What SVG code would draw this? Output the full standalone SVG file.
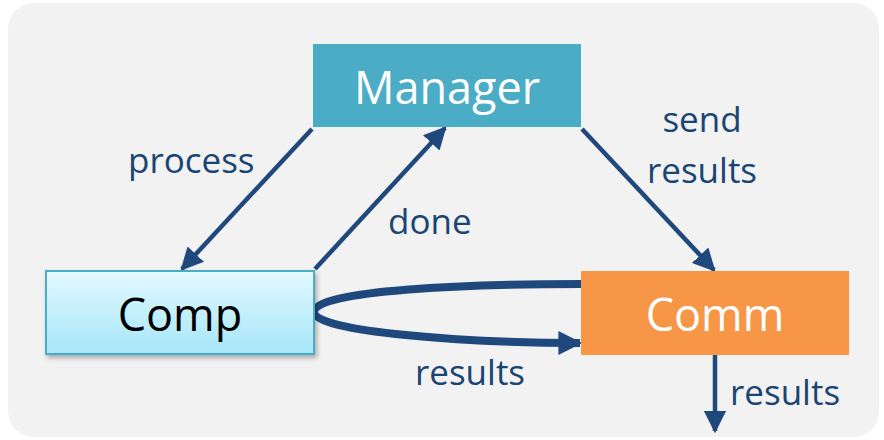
<svg xmlns="http://www.w3.org/2000/svg" width="884" height="440" viewBox="0 0 884 440">
  <defs>
    <linearGradient id="compFill" x1="0" y1="0" x2="0" y2="1">
      <stop offset="0" stop-color="#E3F9FF"/>
      <stop offset="1" stop-color="#A6E6F9"/>
    </linearGradient>
    <filter id="shadow" x="-10%" y="-10%" width="130%" height="140%">
      <feDropShadow dx="2" dy="3" stdDeviation="2.5" flood-color="#000" flood-opacity="0.3"/>
    </filter>
    <marker id="head" viewBox="0 0 10 10" refX="9" refY="5" markerWidth="5" markerHeight="5" orient="auto" markerUnits="strokeWidth">
      <path d="M0,0 L10,5 L0,10 Z" fill="#1F497D"/>
    </marker>
    <marker id="headLoop" viewBox="0 0 10 10" refX="9" refY="5" markerWidth="3.4" markerHeight="3" orient="auto" markerUnits="strokeWidth">
      <path d="M0,0 L10,5 L0,10 Z" fill="#1F497D"/>
    </marker>
  </defs>
  <style>
    .lbl { font-family: "Open Sans", "Noto Sans", sans-serif; font-size: 35px; fill: #1A4573; }
    .node { font-family: "Open Sans", "Noto Sans", sans-serif; font-size: 45px; text-anchor: middle; }
    .arrow { stroke: #1F497D; stroke-width: 4.5; fill: none; marker-end: url(#head); }
  </style>

  <!-- panel -->
  <rect x="8" y="3" width="871" height="434" rx="26" fill="#F2F2F2"/>

  <!-- connectors -->
  <g id="connectors">
    <line class="arrow" x1="312" y1="129" x2="182" y2="269"/>
    <line class="arrow" x1="315" y1="269" x2="445" y2="128"/>
    <line class="arrow" x1="582" y1="129" x2="714" y2="270"/>
    <line class="arrow" x1="715" y1="355" x2="715" y2="431"/>
    <path d="M581,284 C470,284 314,290 314,312 C314,332 470,343 580,343" stroke="#1F497D" stroke-width="8" fill="none" marker-end="url(#headLoop)"/>
  </g>

  <!-- nodes -->
  <g id="manager">
    <rect x="313" y="44" width="268" height="83" fill="#4BACC6"/>
    <text class="node" x="447" y="104" fill="#FFFFFF" font-size="46">Manager</text>
  </g>
  <g id="comp">
    <rect x="46" y="271" width="268" height="83" fill="url(#compFill)" stroke="#4BACC6" stroke-width="2" filter="url(#shadow)"/>
    <text class="node" x="180" y="331" fill="#000000">Comp</text>
  </g>
  <g id="comm">
    <rect x="581" y="271" width="268" height="84" fill="#F79646"/>
    <text class="node" x="715" y="331" fill="#FFFFFF">Comm</text>
  </g>

  <!-- labels -->
  <g id="labels">
    <text class="lbl" x="128" y="173">process</text>
    <text class="lbl" x="388" y="234">done</text>
    <text class="lbl" x="702" y="132" text-anchor="middle">send</text>
    <text class="lbl" x="702" y="183" text-anchor="middle">results</text>
    <text class="lbl" x="470" y="385" text-anchor="middle">results</text>
    <text class="lbl" x="730" y="405">results</text>
  </g>
</svg>
